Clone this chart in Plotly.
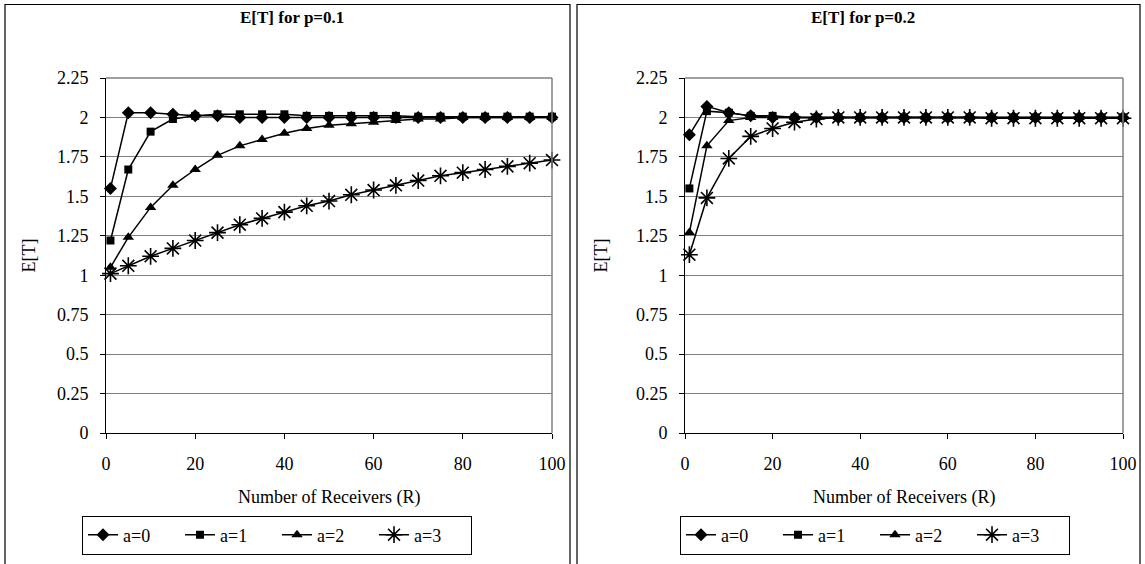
import plotly.graph_objects as go

R = [1, 5, 10, 15, 20, 25, 30, 35, 40, 45, 50, 55, 60, 65, 70, 75, 80, 85, 90, 95, 100]

# p = 0.1
p1_a0 = [1.55, 2.03, 2.03, 2.02, 2.01, 2.01, 2.00, 2.00, 2.00, 2.00, 2.00, 2.00, 2.00, 2.00, 2.00, 2.00, 2.00, 2.00, 2.00, 2.00, 2.00]
p1_a1 = [1.22, 1.67, 1.91, 1.99, 2.01, 2.02, 2.02, 2.02, 2.02, 2.01, 2.01, 2.01, 2.01, 2.01, 2.005, 2.005, 2.005, 2.005, 2.005, 2.005, 2.005]
p1_a2 = [1.05, 1.24, 1.43, 1.57, 1.67, 1.76, 1.82, 1.86, 1.90, 1.93, 1.95, 1.96, 1.97, 1.98, 1.99, 1.99, 2.00, 2.00, 2.00, 2.00, 2.00]
p1_a3 = [1.01, 1.06, 1.12, 1.17, 1.22, 1.27, 1.32, 1.36, 1.40, 1.44, 1.47, 1.51, 1.54, 1.57, 1.60, 1.63, 1.65, 1.67, 1.69, 1.71, 1.73]

# p = 0.2
p2_a0 = [1.89, 2.07, 2.03, 2.01, 2.00, 2.00, 2.00, 2.00, 2.00, 2.00, 2.00, 2.00, 2.00, 2.00, 2.00, 2.00, 2.00, 2.00, 2.00, 2.00, 2.00]
p2_a1 = [1.55, 2.04, 2.03, 2.01, 2.01, 2.00, 2.00, 2.00, 2.00, 2.00, 2.00, 2.00, 2.00, 2.00, 2.00, 2.00, 2.00, 2.00, 2.00, 2.00, 2.00]
p2_a2 = [1.27, 1.82, 1.98, 2.00, 2.00, 2.00, 2.00, 2.00, 2.00, 2.00, 2.00, 2.00, 2.00, 2.00, 2.00, 2.00, 2.00, 2.00, 2.00, 2.00, 2.00]
p2_a3 = [1.13, 1.49, 1.74, 1.88, 1.93, 1.97, 1.99, 2.00, 2.00, 2.00, 2.00, 2.00, 2.00, 2.00, 1.995, 1.995, 1.995, 1.995, 1.995, 1.995, 1.995]

series_names = ["a=0", "a=1", "a=2", "a=3"]
y_ticks = [0, 0.25, 0.5, 0.75, 1, 1.25, 1.5, 1.75, 2, 2.25]
y_tick_text = ["0", "0.25", "0.5", "0.75", "1", "1.25", "1.5", "1.75", "2", "2.25"]
x_ticks = [0, 20, 40, 60, 80, 100]
titles = ["E[T] for p=0.1", "E[T] for p=0.2"]

W, H = 1145, 564
FONT = "Liberation Serif, Times New Roman, serif"

markers = [
    dict(symbol="diamond", size=10, color="black"),
    dict(symbol="square", size=8, color="black"),
    dict(symbol="triangle-up", size=10, color="black"),
    dict(symbol="asterisk-open", size=14, color="black", line=dict(color="black", width=1.6)),
]

fig = go.Figure()

panels = [
    dict(data=[p1_a0, p1_a1, p1_a2, p1_a3], xa="x", ya="y", legend="legend",
         dom=(106 / W, 552 / W), box=(5, 570)),
    dict(data=[p2_a0, p2_a1, p2_a2, p2_a3], xa="x2", ya="y2", legend="legend2",
         dom=(685 / W, 1123 / W), box=(577, 1140)),
]

ydom = (1 - 433 / H, 1 - 78 / H)

for pi, pan in enumerate(panels):
    for si, vals in enumerate(pan["data"]):
        fig.add_trace(go.Scatter(
            x=R, y=vals, mode="lines+markers", name=series_names[si],
            line=dict(color="black", width=1.5),
            marker=markers[si],
            xaxis=pan["xa"], yaxis=pan["ya"], legend=pan["legend"],
            cliponaxis=False,
        ))

layout = dict(
    width=W, height=H,
    margin=dict(l=0, r=0, t=0, b=0, autoexpand=False),
    paper_bgcolor="white", plot_bgcolor="white",
    font=dict(family=FONT, size=18, color="black"),
    showlegend=True,
    shapes=[], annotations=[],
)

for pi, pan in enumerate(panels):
    suffix = "" if pi == 0 else str(pi + 1)
    layout["xaxis" + suffix] = dict(
        domain=list(pan["dom"]), range=[0, 100], anchor="y" + suffix,
        tickvals=x_ticks, ticks="outside", ticklen=5, tickcolor="black",
        showline=True, linecolor="black", linewidth=1, showgrid=False, zeroline=False,
        tickfont=dict(family=FONT, size=18), ticklabelstandoff=9, automargin=False,
    )
    layout["yaxis" + suffix] = dict(
        domain=list(ydom), range=[0, 2.25], anchor="x" + suffix,
        tickvals=y_ticks, ticktext=y_tick_text, ticks="outside", ticklen=5, tickcolor="black",
        showline=True, linecolor="black", linewidth=1,
        showgrid=True, gridcolor="#808080", gridwidth=1, zeroline=False,
        tickfont=dict(family=FONT, size=18), ticklabelstandoff=8, automargin=False,
    )
    x0, x1 = pan["dom"]
    layout["shapes"].append(dict(type="line", xref="paper", yref="paper",
                                 x0=x0, x1=x1, y0=ydom[1], y1=ydom[1],
                                 line=dict(color="#808080", width=1.5)))
    layout["shapes"].append(dict(type="line", xref="paper", yref="paper",
                                 x0=x1, x1=x1, y0=ydom[0], y1=ydom[1],
                                 line=dict(color="#808080", width=1.5)))
    bx0, bx1 = pan["box"]
    layout["shapes"].append(dict(type="rect", xref="paper", yref="paper",
                                 x0=bx0 / W, x1=bx1 / W, y0=-0.02, y1=1 - 4.5 / H,
                                 line=dict(color="black", width=1.2), fillcolor="rgba(0,0,0,0)"))
    cx = (x0 + x1) / 2
    layout["annotations"].append(dict(
        text="<b>" + titles[pi] + "</b>", xref="paper", yref="paper",
        x=(bx0 + bx1) / 2 / W + 0.004, y=1 - 18 / H, xanchor="center", yanchor="middle",
        showarrow=False, font=dict(family=FONT, size=17)))
    layout["annotations"].append(dict(
        text="Number of Receivers (R)", xref="paper", yref="paper",
        x=cx, y=1 - 497 / H, xanchor="center", yanchor="middle",
        showarrow=False, font=dict(family=FONT, size=18)))
    layout["annotations"].append(dict(
        text="E[T]", xref="paper", yref="paper",
        x=(bx0 + 23) / W, y=(ydom[0] + ydom[1]) / 2, xanchor="center", yanchor="middle",
        textangle=-90, showarrow=False, font=dict(family=FONT, size=18)))

legend_common = dict(
    orientation="h", xanchor="center", yanchor="middle",
    bordercolor="black", borderwidth=1, bgcolor="white",
    font=dict(family=FONT, size=18), entrywidth=52, entrywidthmode="pixels",
    tracegroupgap=0,
)
layout["legend"] = dict(legend_common, x=277 / W, y=1 - 535 / H)
layout["legend2"] = dict(legend_common, x=875 / W, y=1 - 535 / H)

fig.update_layout(**layout)
fig.write_html("out.html")
